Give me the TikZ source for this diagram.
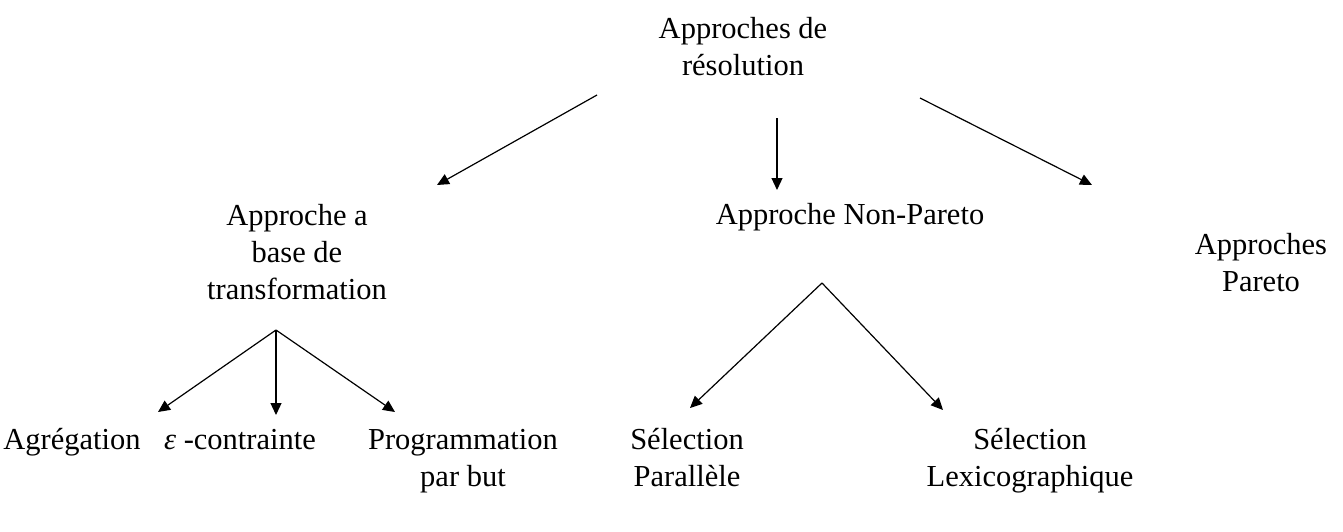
\documentclass[tikz,border=0pt]{standalone}
\usepackage{fontspec}
\setmainfont{Liberation Serif}
\usetikzlibrary{arrows.meta,calc}
\begin{document}
\begin{tikzpicture}[x=1pt,y=-1pt,
  lbl/.style={inner sep=0pt,align=center,font=\fontsize{30.5}{37}\selectfont},
  arr/.style={line width=1.2pt,-{Triangle[length=12pt,width=11pt]}}]
\useasboundingbox (0,0) rectangle (1343,531);
% tree nodes (a strut on each line keeps the line heights equal)
\node[lbl] (root) at (743,50) {\strut Approches de\\\strut résolution};
\node[lbl] (a1) at (297,255) {\strut Approche a\\\strut base de\\\strut transformation};
\node[lbl] (a2) at (850,217) {\strut Approche Non-Pareto};
\node[lbl] (a3) at (1261,266) {\strut Approches\\\strut Pareto};
\node[lbl] (agr) at (72,442) {\strut Agrégation};
\node[lbl] (eps) at (240,442) {\strut{\itshape ε} -contrainte};
\node[lbl] (prog) at (463,461) {\strut Programmation\\\strut par but};
\node[lbl] (selP) at (687,461) {\strut Sélection\\\strut Parallèle};
\node[lbl] (selL) at (1030,461) {\strut Sélection\\\strut Lexicographique};
% first level
\draw[arr] ($(root)+(-146,45)$) -- ($(a1)+(140,-70)$);
\draw[arr] ($(root)+(34,68)$) -- ($(a2)+(-73,-27)$);
\draw[arr] ($(root)+(177,48)$) -- ($(a3)+(-169,-81)$);
% transformation branch
\draw[arr] ($(a1)+(-21,75)$) -- ($(agr)+(86,-30)$);
\draw[arr] ($(a1)+(-21,75)$) -- ($(eps)+(36,-27)$);
\draw[arr] ($(a1)+(-21,75)$) -- ($(prog)+(-68,-49)$);
% non-Pareto branch
\draw[arr] ($(a2)+(-28,66)$) -- ($(selP)+(3,-53)$);
\draw[arr] ($(a2)+(-28,66)$) -- ($(selL)+(-87,-51)$);
\end{tikzpicture}
\end{document}
